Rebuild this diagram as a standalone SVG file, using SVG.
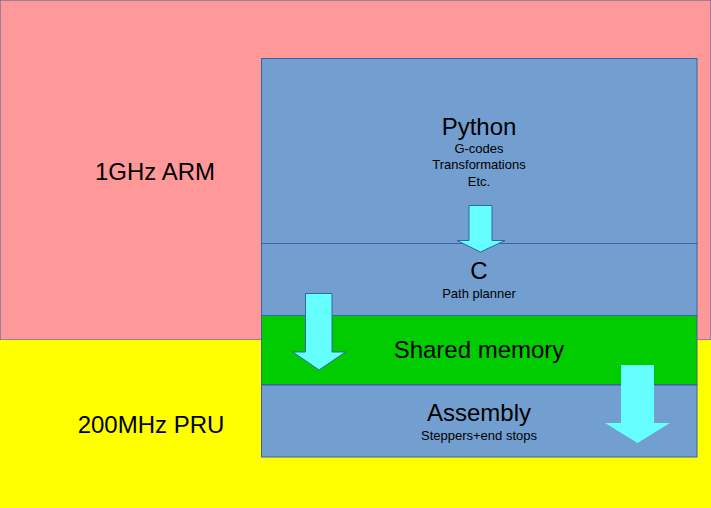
<svg xmlns="http://www.w3.org/2000/svg" width="711" height="508" viewBox="0 0 711 508">
<style>
text{font-family:"Liberation Sans",Arial,sans-serif;fill:#000;text-anchor:middle}
.big{font-size:24px}
.small{font-size:13px}
.band{fill:#729fcf;stroke:#3465a4;stroke-width:1}
.arr{fill:#66ffff;stroke:#3465a4;stroke-width:1}
</style>
<g id="arm"><rect x="0" y="0" width="711" height="340" fill="#ff9999" stroke="#3465a4" stroke-width="1"/><text class="big" x="155" y="180">1GHz ARM</text></g>
<g id="pru"><rect x="0" y="340" width="711" height="168" fill="#ffff00"/><text class="big" x="151" y="433">200MHz PRU</text></g>
<g id="python"><rect class="band" x="261.5" y="58.5" width="435.5" height="185"/><text class="big" x="479" y="135">Python</text><text class="small" x="479" y="153">G-codes</text><text class="small" x="479" y="169">Transformations</text><text class="small" x="479" y="186">Etc.</text></g>
<g id="c"><rect class="band" x="261.5" y="243.5" width="435.5" height="72"/><text class="big" x="479" y="279">C</text><text class="small" x="479" y="298">Path planner</text></g>
<g id="shared"><rect x="261.5" y="315.5" width="435.5" height="69" fill="#00cc00" stroke="#3465a4"/><text class="big" x="479" y="358">Shared memory</text></g>
<g id="assembly"><rect class="band" x="261.5" y="385" width="435.5" height="72"/><text class="big" x="479" y="421">Assembly</text><text class="small" x="479" y="440">Steppers+end stops</text></g>
<g id="connectors">
<polygon class="arr" points="469,205.5 492,205.5 492,240.5 505,240.5 480.5,252 457,240.5 469,240.5"/>
<polygon class="arr" points="305.5,293.5 332,293.5 332,352 345.5,352 319,370 293,352 305.5,352"/>
<polygon fill="#66ffff" points="621,365 654,365 654,423 670,423 637.5,443 605,423 621,423"/>
</g>
</svg>
